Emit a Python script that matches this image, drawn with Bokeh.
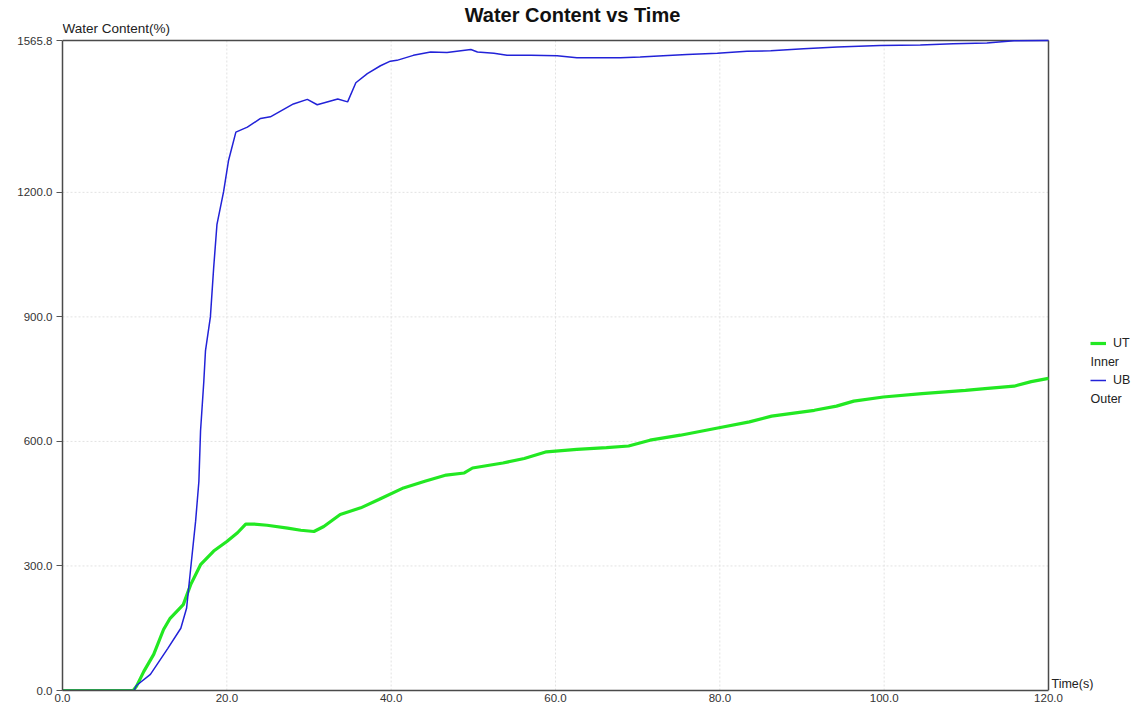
from bokeh.plotting import figure
from bokeh.models import (Range1d, FixedTicker, NumeralTickFormatter, Legend, LegendItem, Label)
from bokeh.embed import file_html
from bokeh.resources import INLINE

# ---- data ----
ub_time = [0, 8.7, 9.0, 10.7, 12.8, 14.4, 15.1, 15.6, 16.2, 16.6, 16.8, 17.2, 17.4, 18.0, 18.4,
           18.8, 19.6, 20.2, 21.1, 22.5, 24.1, 25.3, 28.1, 29.8, 31.0, 33.5, 34.7, 35.7, 37.1,
           38.7, 39.9, 40.7, 42.7, 44.8, 46.8, 48.0, 49.7, 50.5, 52.5, 54.1, 57.0, 60.2, 62.6,
           65.5, 67.9, 70.3, 73.1, 76.0, 79.7, 83.3, 86.2, 90.2, 94.3, 99.5, 104.4, 108.4,
           112.5, 115.8, 120.0]
ub_water = [0, 0, 12, 39, 101, 150, 198, 294, 408, 504, 625, 745, 818, 900, 1019,
            1123, 1201, 1276, 1345, 1357, 1378, 1382, 1413, 1424, 1411, 1425, 1418, 1464, 1486,
            1505, 1516, 1518, 1530, 1538, 1537, 1540, 1544, 1538, 1535, 1530, 1530, 1529, 1524,
            1524, 1524, 1526, 1529, 1532, 1535, 1540, 1541, 1546, 1550, 1554, 1555, 1558,
            1560, 1565, 1565.8]

ut_time = [0, 8.6, 9.0, 9.9, 11.1, 12.3, 13.1, 14.7, 15.6, 16.8, 18.4, 20.0, 21.3, 22.3, 23.3,
           24.9, 27.4, 29.0, 30.6, 31.8, 33.8, 36.3, 38.5, 41.5, 44.1, 46.7, 48.9, 49.9, 53.6,
           56.2, 58.9, 62.6, 66.2, 68.9, 71.5, 75.2, 79.9, 83.6, 86.3, 91.5, 94.2, 96.3, 99.9,
           104.6, 109.9, 112.6, 115.8, 117.9, 120.0]
ut_water = [0, 0, 10, 46, 87, 147, 174, 207, 255, 303, 336, 359, 380, 401, 401,
            398, 391, 386, 383, 395, 424, 440, 460, 488, 504, 519, 524, 536, 548,
            559, 575, 581, 585, 589, 603, 615, 633, 647, 661, 675, 685, 697, 707,
            715, 723, 728, 733, 744, 752]

x_ticks = [0, 20, 40, 60, 80, 100, 120]
y_ticks = [0, 300, 600, 900, 1200, 1565.8]

title_text = "Water Content vs Time"
y_label = "Water Content(%)"
x_label = "Time(s)"
series_names = ["UT", "UB"]
series_sub = ["Inner", "Outer"]

FONT = "Liberation Sans"
X_MAX = x_ticks[-1]
Y_MAX = y_ticks[-1]

# Frame covers the whole canvas right/top so that titles and legend are not clipped;
# the visible plot box (0..120, 0..1565.8) is drawn with axis bounds + border segments.
W, H = 1132, 705
LEFT, BOTTOM = 62, 15
BOX_RIGHT_PX, BOX_TOP_PX = 1048, 40
fw = W - LEFT
fh = H - BOTTOM
x_end = X_MAX * fw / (BOX_RIGHT_PX - LEFT)
y_end = Y_MAX * fh / (H - BOTTOM - BOX_TOP_PX)

p = figure(width=W, height=H, output_backend="svg", toolbar_location=None,
           x_range=Range1d(0, x_end), y_range=Range1d(0, y_end),
           min_border_left=LEFT, min_border_right=0, min_border_top=0, min_border_bottom=BOTTOM)
p.background_fill_color = "white"
p.border_fill_color = "white"
p.outline_line_color = None
p.xgrid.visible = False
p.ygrid.visible = False

# axes
p.xaxis.ticker = FixedTicker(ticks=x_ticks)
p.yaxis.ticker = FixedTicker(ticks=y_ticks)
p.xaxis.formatter = NumeralTickFormatter(format="0.0")
p.yaxis.formatter = NumeralTickFormatter(format="0.0")
p.xaxis.bounds = (0, X_MAX)
p.yaxis.bounds = (0, Y_MAX)
for ax in (p.xaxis, p.yaxis):
    ax.axis_line_color = "#4a4a4a"
    ax.axis_line_width = 1.5
    ax.major_label_text_font = FONT
    ax.major_label_text_font_size = "11.5px"
    ax.major_label_text_color = "#333333"
    ax.minor_tick_line_color = None
    ax.major_tick_in = 0
p.xaxis.major_tick_out = 0
p.xaxis.major_label_standoff = 3
p.yaxis.major_tick_out = 6
p.yaxis.major_tick_line_color = "#555555"
p.yaxis.major_label_standoff = 4

# grid lines (light, dashed) inside the plot box
gx = x_ticks[1:-1]
gy = y_ticks[1:-1]
p.segment(x0=gx, y0=[0] * len(gx), x1=gx, y1=[Y_MAX] * len(gx),
          line_color="#e2e2e2", line_dash="2 2", line_width=1)
p.segment(x0=[0] * len(gy), y0=gy, x1=[X_MAX] * len(gy), y1=gy,
          line_color="#e2e2e2", line_dash="2 2", line_width=1)

# box border (top and right)
p.segment(x0=[0, X_MAX], y0=[Y_MAX, 0], x1=[X_MAX, X_MAX], y1=[Y_MAX, Y_MAX],
          line_color="#4a4a4a", line_width=1.5)

# series
g_ut = p.line(ut_time, ut_water, line_color="#22e822", line_width=3.2)
g_ub = p.line(ub_time, ub_water, line_color="#2222d8", line_width=1.5)

legend = Legend(items=[LegendItem(label=series_names[0], renderers=[g_ut]),
                       LegendItem(label=series_names[1], renderers=[g_ub])],
                location=(1090 - LEFT, fh - 389), padding=0, margin=0, spacing=19,
                label_height=18, glyph_height=18, glyph_width=16, label_standoff=7,
                border_line_color=None, background_fill_alpha=0,
                label_text_font=FONT, label_text_font_size="12.5px",
                label_text_color="#222222")
p.add_layout(legend, "center")

def lab(txt, px, py, size="12.5px", style="normal", align="left", color="#222222"):
    # px, py: page pixel position of the text anchor
    p.add_layout(Label(x=px - LEFT, y=fh - py, x_units="screen", y_units="screen", text=txt,
                       text_font=FONT, text_font_size=size, text_font_style=style,
                       text_align=align, text_baseline="middle", text_color=color))

lab(series_sub[0], 1090, 361)
lab(series_sub[1], 1090, 398)
lab(y_label, 62, 28, size="13.5px")
lab(x_label, 1051, 683, size="12.5px")
lab(title_text, 572, 14, size="20px", style="bold", align="center", color="#111111")

open("out.html", "w").write(file_html(p, INLINE))
